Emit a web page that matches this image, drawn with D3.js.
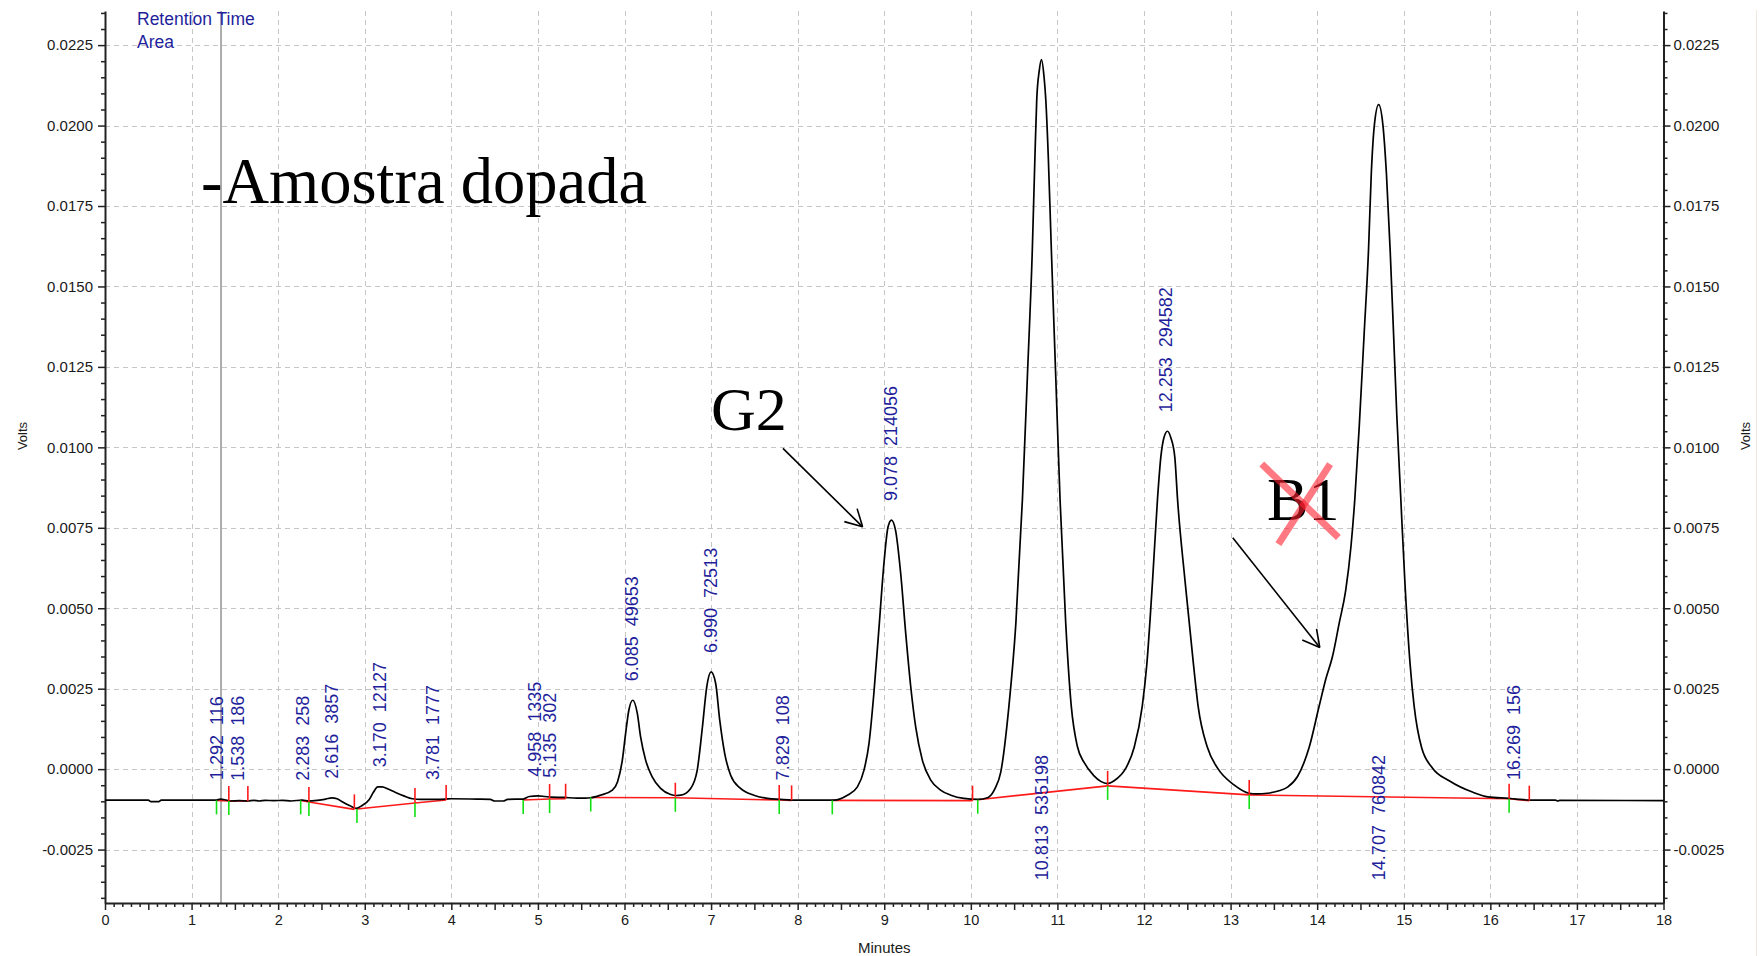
<!DOCTYPE html>
<html>
<head>
<meta charset="utf-8">
<script src="https://cdn.jsdelivr.net/npm/d3@7"></script>
<style>
  body { margin: 0; background: #fff; }
  svg { display: block; }
</style>
</head>
<body>
<svg id="chart" width="1762" height="956"></svg>
<script>
// ---- Chromatogram data -------------------------------------------------
// Axis ticks
const minuteTicks = d3.range(0, 19);                 // labelled minutes
const voltTicks = d3.range(-1, 10).map(k => k * 0.0025); // labelled volts

// Detector signal: [minutes, volts]
const trace = [
  [0.00, -0.00096], [0.50, -0.00096], [0.53, -0.00101], [0.62, -0.00101], [0.65, -0.00096],
  [1.00, -0.00096], [1.29, -0.00096], [1.33, -0.00093], [1.40, -0.00096], [1.45, -0.00099],
  [1.55, -0.00098], [1.65, -0.00099], [1.72, -0.00097], [1.78, -0.00099], [1.85, -0.00097],
  [1.95, -0.00098], [2.05, -0.00097], [2.15, -0.00099], [2.28, -0.00096], [2.35, -0.00099],
  [2.45, -0.00097], [2.55, -0.00093], [2.62, -0.00089], [2.68, -0.00092], [2.75, -0.00103],
  [2.83, -0.00114], [2.90, -0.00122], [2.97, -0.00113], [3.05, -0.00095], [3.10, -0.00072],
  [3.15, -0.00055], [3.20, -0.00055], [3.27, -0.00062], [3.35, -0.00072], [3.45, -0.00083],
  [3.55, -0.00092], [3.65, -0.00094], [3.80, -0.00094], [3.94, -0.00093], [4.00, -0.00092],
  [4.30, -0.00093], [4.45, -0.00094], [4.50, -0.00099], [4.60, -0.00099], [4.65, -0.00094],
  [4.83, -0.00093], [4.90, -0.00085], [5.00, -0.00083], [5.08, -0.00085], [5.15, -0.00087],
  [5.30, -0.00088], [5.45, -0.00090], [5.55, -0.00090], [5.61, -0.00089],
  // 6.085
  [5.72, -0.00081], [5.86, -0.00065], [5.92, -0.00039], [5.975, 0.00028], [6.013, 0.00111],
  [6.05, 0.00183], [6.095, 0.00214], [6.148, 0.00173], [6.186, 0.00100], [6.244, 0.00028],
  [6.32, -0.00024], [6.417, -0.00060], [6.533, -0.00079], [6.60, -0.00082],
  // 6.990
  [6.65, -0.00081], [6.764, -0.00060], [6.84, -0.00003], [6.90, 0.00131], [6.95, 0.00256],
  [7.00, 0.00302], [7.053, 0.00266], [7.10, 0.00152], [7.157, 0.00049], [7.226, -0.00019],
  [7.34, -0.00060], [7.495, -0.00081], [7.65, -0.00091], [7.80, -0.00094], [7.93, -0.00096],
  [8.20, -0.00096], [8.42, -0.00096],
  // 9.078
  [8.574, -0.00081], [8.69, -0.00055], [8.766, -0.00003], [8.824, 0.00080], [8.88, 0.00235],
  [8.94, 0.00442], [9.00, 0.00650], [9.044, 0.00753], [9.083, 0.00774], [9.13, 0.00743],
  [9.19, 0.00608], [9.248, 0.00422], [9.306, 0.00256], [9.363, 0.00131], [9.44, 0.00028],
  [9.537, -0.00034], [9.65, -0.00065], [9.77, -0.00081], [9.92, -0.00091], [10.08, -0.00094],
  // 10.813
  [10.20, -0.00088], [10.28, -0.00060], [10.345, -0.00010], [10.44, 0.00196], [10.52, 0.00453],
  [10.596, 0.00840], [10.654, 0.01226], [10.71, 0.01613], [10.74, 0.01900], [10.761, 0.02079],
  [10.79, 0.02170], [10.816, 0.02205], [10.846, 0.02150], [10.866, 0.02079], [10.895, 0.01900],
  [10.93, 0.01613], [10.98, 0.01226], [11.03, 0.00840], [11.096, 0.00453], [11.16, 0.00196],
  [11.23, 0.00071], [11.31, 0.00020], [11.42, -0.00020], [11.50, -0.00038], [11.578, -0.00045],
  // 12.253
  [11.655, -0.00036], [11.79, 0.00003], [11.886, 0.00067], [11.98, 0.00196], [12.032, 0.00324],
  [12.098, 0.00582], [12.156, 0.00840], [12.194, 0.00969], [12.23, 0.01030], [12.271, 0.01050],
  [12.31, 0.01030], [12.356, 0.00969], [12.387, 0.00840], [12.475, 0.00582], [12.572, 0.00324],
  [12.625, 0.00196], [12.733, 0.00067], [12.85, 0.00003], [13.04, -0.00049], [13.214, -0.00075],
  [13.30, -0.00077],
  // 14.707 with shoulder
  [13.426, -0.00075], [13.55, -0.00068], [13.658, -0.00056], [13.773, -0.00023], [13.907, 0.00067],
  [14.023, 0.00196], [14.10, 0.00280], [14.177, 0.00350], [14.254, 0.00453], [14.33, 0.00556],
  [14.39, 0.00691], [14.435, 0.00840], [14.485, 0.01060], [14.543, 0.01355], [14.593, 0.01613],
  [14.625, 0.01850], [14.66, 0.02000], [14.71, 0.02065], [14.76, 0.02000], [14.80, 0.01850],
  [14.843, 0.01613], [14.882, 0.01355], [14.92, 0.01098], [14.966, 0.00840], [15.013, 0.00582],
  [15.074, 0.00324], [15.12, 0.00196], [15.206, 0.00067], [15.333, 0.00003], [15.525, -0.00036],
  [15.80, -0.00072], [15.97, -0.00086], [16.217, -0.00091], [16.30, -0.00093], [16.45, -0.00096],
  [16.75, -0.00096], [16.78, -0.00099], [16.80, -0.00097], [18.00, -0.00098]
];

// Integrated peaks
const peakRT    = ["1.292", "1.538", "2.283", "2.616", "3.170", "3.781", "4.958", "5.135",
                   "6.085", "6.990", "7.829", "9.078", "10.813", "12.253", "14.707", "16.269"];
const peakArea  = [116, 186, 258, 3857, 12127, 1777, 1335, 302,
                   49653, 72513, 108, 214056, 535198, 294582, 760842, 156];
const peakApex  = [-0.00093, -0.00095, -0.00095, -0.00089, -0.00053, -0.00093, -0.00083, -0.00086,
                   0.00214, 0.00302, -0.00094, 0.00774, 0.02205, 0.01050, 0.02065, -0.00093];
const peakStart = [1.288, 1.43, 2.26, 2.355, 2.91, 3.58, 4.83, 5.135,
                   5.61, 6.587, 7.787, 8.40, 10.08, 11.58, 13.215, 16.217];
const peakEnd   = [1.43, 1.65, 2.355, 2.88, 3.58, 3.94, 5.135, 5.32,
                   6.587, 7.787, 7.93, 10.02, 11.58, 13.215, 16.217, 16.45];
const baseStartVolts = [-0.00097, -0.00099, -0.00097, -0.00102, -0.00124, -0.00105, -0.00096, -0.00093,
                        -0.00088, -0.00089, -0.00096, -0.00097, -0.00095, -0.00052, -0.00080, -0.00092];
const baseEndVolts   = [-0.00099, -0.00099, -0.00102, -0.00125, -0.00105, -0.00096, -0.00093, -0.00092,
                        -0.00089, -0.00096, -0.00097, -0.00098, -0.00052, -0.00080, -0.00092, -0.00098];

const cursorMinute = 1.34;

// ---- Layout ------------------------------------------------------------
const svg = d3.select("#chart");
const plot = { left: 105, right: 1663.5, top: 11, bottom: 903 };

const x = d3.scaleLinear().domain([0, 18]).range([plot.left, plot.right]);
const y = d3.scaleLinear().domain([-0.00416, 0.02356]).range([plot.bottom, plot.top]);

const axisFont = "'Liberation Sans', Arial, sans-serif";
const labelBlue = "#1f1f9c";

svg.append("rect").attr("width", 1762).attr("height", 956).attr("fill", "#fff");

// faint window edge on the right
svg.append("line")
  .attr("x1", 1756.5).attr("x2", 1756.5).attr("y1", 10).attr("y2", 956)
  .attr("stroke", "#eee8dd").attr("stroke-width", 1);

// ---- Grid --------------------------------------------------------------
const grid = svg.append("g")
  .attr("stroke", "#c6c6c6")
  .attr("stroke-width", 1)
  .attr("stroke-dasharray", "5,4");

grid.selectAll("line.v")
  .data(minuteTicks.filter(d => d > 0 && d < 18))
  .join("line").attr("class", "v")
  .attr("x1", d => Math.round(x(d)) + 0.5).attr("x2", d => Math.round(x(d)) + 0.5)
  .attr("y1", plot.top).attr("y2", plot.bottom);

grid.selectAll("line.h")
  .data(voltTicks)
  .join("line").attr("class", "h")
  .attr("x1", plot.left).attr("x2", plot.right)
  .attr("y1", d => Math.round(y(d)) + 0.5).attr("y2", d => Math.round(y(d)) + 0.5);

// retention-time cursor
svg.append("line")
  .attr("x1", x(cursorMinute)).attr("x2", x(cursorMinute))
  .attr("y1", plot.top).attr("y2", plot.bottom)
  .attr("stroke", "#8a8a8a").attr("stroke-width", 1.4);

// ---- Axes --------------------------------------------------------------
const minorMinutes = d3.range(0, 181).map(k => k / 10);
const minorVolts = d3.range(-8, 48).map(k => k * 0.0005);
const isMajorVolt = v => Math.abs(Math.round(v / 0.0025) * 0.0025 - v) < 1e-9;

const xAxis = d3.axisBottom(x)
  .tickValues(minorMinutes)
  .tickSize(7).tickSizeOuter(0).tickPadding(5)
  .tickFormat(d => Math.abs(d - Math.round(d)) < 1e-9 ? String(Math.round(d)) : "");

const gx = svg.append("g").attr("transform", `translate(0,${plot.bottom})`).call(xAxis);
gx.selectAll(".tick line")
  .attr("y2", d => (Math.round(d * 10) % 5 === 0) ? 7 : 4);

const yFmt = v => isMajorVolt(v) ? (Math.abs(v) < 1e-9 ? "0.0000" : v.toFixed(4)) : "";

const gyl = svg.append("g").attr("transform", `translate(${plot.left},0)`)
  .call(d3.axisLeft(y).tickValues(minorVolts).tickSize(7).tickSizeOuter(0).tickPadding(5).tickFormat(yFmt));
gyl.selectAll(".tick line").attr("x2", d => isMajorVolt(d) ? -7 : -4);

const gyr = svg.append("g").attr("transform", `translate(${plot.right},0)`)
  .call(d3.axisRight(y).tickValues(minorVolts).tickSize(7).tickSizeOuter(0).tickPadding(3).tickFormat(yFmt));
gyr.selectAll(".tick line").attr("x2", d => isMajorVolt(d) ? 7 : 4);

[gx, gyl, gyr].forEach(g => {
  g.select(".domain").attr("stroke", "#222").attr("stroke-width", 2);
  g.selectAll(".tick line").attr("stroke", "#222").attr("stroke-width", 1.5);
  g.selectAll(".tick text")
    .attr("font-family", axisFont).attr("font-size", 15).attr("fill", "#1a1a1a");
});
gx.selectAll(".tick text").attr("font-size", 14.5);

// axis titles
svg.append("text")
  .attr("x", (plot.left + plot.right) / 2).attr("y", 953)
  .attr("text-anchor", "middle")
  .attr("font-family", axisFont).attr("font-size", 15).attr("fill", "#1a1a1a")
  .text("Minutes");

[22, 1745].forEach(cx => {
  svg.append("text")
    .attr("transform", `translate(${cx + 5},436) rotate(-90)`)
    .attr("text-anchor", "middle")
    .attr("font-family", axisFont).attr("font-size", 13).attr("fill", "#1a1a1a")
    .text("Volts");
});

// legend of the peak annotation fields
svg.append("text").attr("x", 137).attr("y", 25)
  .attr("font-family", axisFont).attr("font-size", 17.5).attr("fill", labelBlue)
  .text("Retention Time");
svg.append("text").attr("x", 137).attr("y", 48)
  .attr("font-family", axisFont).attr("font-size", 17.5).attr("fill", labelBlue)
  .text("Area");

// ---- Integration baselines and markers --------------------------------
const peaks = peakRT.map((rt, i) => ({
  rt, t: +rt, area: peakArea[i], apex: peakApex[i],
  start: peakStart[i], end: peakEnd[i],
  v0: baseStartVolts[i], v1: baseEndVolts[i]
}));

svg.append("g").selectAll("line")
  .data(peaks).join("line")
  .attr("x1", d => x(d.start)).attr("y1", d => y(d.v0))
  .attr("x2", d => x(d.end)).attr("y2", d => y(d.v1))
  .attr("stroke", "#ff1a1a").attr("stroke-width", 1.6);

// ---- Signal ------------------------------------------------------------
const line = d3.line()
  .x(d => x(d[0])).y(d => y(d[1]))
  .curve(d3.curveMonotoneX);

svg.append("path")
  .datum(trace)
  .attr("d", line)
  .attr("fill", "none")
  .attr("stroke", "#000")
  .attr("stroke-width", 1.7)
  .attr("stroke-linejoin", "round");

// start (green) and end (red) markers
svg.append("g").selectAll("line")
  .data(peaks).join("line")
  .attr("x1", d => x(d.start)).attr("x2", d => x(d.start))
  .attr("y1", d => y(d.v0)).attr("y2", d => y(d.v0) + 14)
  .attr("stroke", "#12e012").attr("stroke-width", 1.6);

svg.append("g").selectAll("line")
  .data(peaks).join("line")
  .attr("x1", d => x(d.end)).attr("x2", d => x(d.end))
  .attr("y1", d => y(d.v1)).attr("y2", d => y(d.v1) - 15)
  .attr("stroke", "#ff1a1a").attr("stroke-width", 1.6);

// ---- Peak labels -------------------------------------------------------
const labels = svg.append("g")
  .attr("font-family", axisFont).attr("font-size", 18).attr("fill", labelBlue);

labels.selectAll("text")
  .data(peaks).join("text")
  .attr("dy", "0.35em")
  .text(d => `${d.rt}\u00a0\u00a0${d.area}`)
  .each(function (d) {
    const len = this.getComputedTextLength();
    const above = y(d.apex) - 19;
    const fits = above - len > plot.top + 4;
    const y0 = fits ? above : y(-0.00345);
    d3.select(this).attr("transform", `translate(${x(d.t)},${y0}) rotate(-90)`);
  });

// ---- Annotations -------------------------------------------------------
const serif = "'Liberation Serif', 'Times New Roman', serif";

svg.append("text")
  .attr("x", x(1.109)).attr("y", y(0.01758))
  .attr("font-family", serif).attr("font-size", 64.5).attr("fill", "#000")
  .text("-Amostra dopada");

svg.append("text")
  .attr("x", x(7.0)).attr("y", y(0.01054))
  .attr("font-family", serif).attr("font-size", 62).attr("fill", "#000")
  .text("G2");

svg.append("text")
  .attr("x", x(13.421)).attr("y", y(0.00774))
  .attr("font-family", serif).attr("font-size", 62).attr("fill", "#000")
  .text("B1");

// crossed-out mark over B1
const cross = [
  [[13.36, 0.00948], [14.245, 0.00720]],
  [[14.149, 0.00948], [13.552, 0.00699]]
];
svg.append("g").selectAll("line")
  .data(cross).join("line")
  .attr("x1", d => x(d[0][0])).attr("y1", d => y(d[0][1]))
  .attr("x2", d => x(d[1][0])).attr("y2", d => y(d[1][1]))
  .attr("stroke", "#ff1f2f").attr("stroke-opacity", 0.6)
  .attr("stroke-width", 7).attr("stroke-linecap", "butt");

// arrows pointing at the marked peaks
const arrows = [
  [[7.83, 0.00997], [8.75, 0.00753]],
  [[13.025, 0.00719], [14.03, 0.00378]]
];
const arrowG = svg.append("g").attr("stroke", "#000").attr("stroke-width", 1.6).attr("fill", "none");
arrows.forEach(([a, b]) => {
  const x0 = x(a[0]), y0 = y(a[1]), x1 = x(b[0]), y1 = y(b[1]);
  const ang = Math.atan2(y0 - y1, x0 - x1);
  const len = 19, spread = 0.5;
  arrowG.append("line").attr("x1", x0).attr("y1", y0).attr("x2", x1).attr("y2", y1);
  [-spread, spread].forEach(s => {
    arrowG.append("line")
      .attr("x1", x1).attr("y1", y1)
      .attr("x2", x1 + len * Math.cos(ang + s))
      .attr("y2", y1 + len * Math.sin(ang + s));
  });
});
</script>
</body>
</html>
